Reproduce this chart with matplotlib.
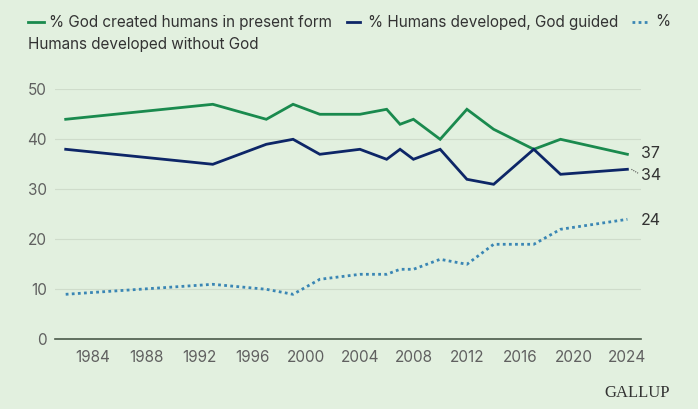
import numpy as np
import matplotlib
matplotlib.use('Agg')
import matplotlib.pyplot as plt
from matplotlib.lines import Line2D

years = [1982, 1993, 1997, 1999, 2001, 2004, 2006, 2007, 2008, 2010, 2012, 2014, 2017, 2019, 2024]
god_created = [44, 47, 44, 47, 45, 45, 46, 43, 44, 40, 46, 42, 38, 40, 37]
god_guided = [38, 35, 39, 40, 37, 38, 36, 38, 36, 38, 32, 31, 38, 33, 34]
without_god = [9, 11, 10, 9, 12, 13, 13, 14, 14, 16, 15, 19, 19, 22, 24]
xticks = list(range(1984, 2025, 4))
yticks = [0, 10, 20, 30, 40, 50]

bg = '#e2f0df'
c_green = '#1a8a4e'
c_navy = '#0d2667'
c_blue = '#3a86b4'
c_text = '#606060'

plt.rcParams['font.family'] = ['Inter', 'DejaVu Sans']

W, H = 698, 409
fig = plt.figure(figsize=(W / 100, H / 100), dpi=100)
fig.patch.set_facecolor(bg)
ax = fig.add_axes([0.0788, 0.1704, 0.8392, 0.6113])
ax.set_facecolor(bg)

ax.plot(years, god_created, color=c_green, lw=2.0, solid_joinstyle='miter')
ax.plot(years, god_guided, color=c_navy, lw=2.0, solid_joinstyle='miter')
ax.plot(years, without_god, color=c_blue, lw=2.0, ls=(0, (1, 1.2)))

ax.set_xlim(1981.2, 2025)
ax.set_ylim(0, 50)
ax.set_xticks(xticks)
ax.set_yticks(yticks)
ax.tick_params(length=0, labelsize=11, colors=c_text, pad=8)
ax.tick_params(axis='y', pad=6)
ax.grid(axis='y', color='#cfdccb', lw=0.8)
ax.set_axisbelow(True)
for s in ['top', 'right', 'left']:
    ax.spines[s].set_visible(False)
ax.spines['bottom'].set_color('#4a5a4a')
ax.spines['bottom'].set_linewidth(1.2)

# end labels with small leader dots
ends = [(god_created[-1], 37.2), (god_guided[-1], 32.7), (without_god[-1], 23.7)]
for val, ypos in ends:
    if abs(ypos - val) > 0.5:
        ax.plot([years[-1] + 0.3, years[-1] + 0.8], [val, val + (ypos - val) * 0.6],
                color='#555555', lw=0.8, ls=(0, (1, 1)), clip_on=False)
    ax.text(years[-1] + 1.0, ypos, str(val), fontsize=11.5, color='#333333',
            va='center', ha='left', clip_on=False)

# legend, drawn by hand to match the wrapped layout
def px(x, y):
    return x / W, 1 - y / H

y1, y2 = 22, 45
for x0, x1, col, ls in [(28, 44, c_green, '-'), (347, 360, c_navy, '-'),
                        (632, 650, c_blue, (0, (1, 1.2)))]:
    (a, b), (c, d) = px(x0, y1), px(x1, y1)
    fig.add_artist(Line2D([a, c], [b, d], color=col, lw=2.0, ls=ls))

for x, y, s in [(49, y1, '% God created humans in present form'),
                (368, y1, '% Humans developed, God guided'),
                (655, y1, '%'),
                (28, y2, 'Humans developed without God')]:
    fx, fy = px(x, y)
    fig.text(fx, fy, s, color='#333333', fontsize=11, va='center', ha='left')

fig.text(0.96, 0.04, 'GALLUP', color='#333333', fontsize=12, family='Liberation Serif',
         va='center', ha='right')

plt.savefig('out.png', dpi=100, facecolor=bg)
